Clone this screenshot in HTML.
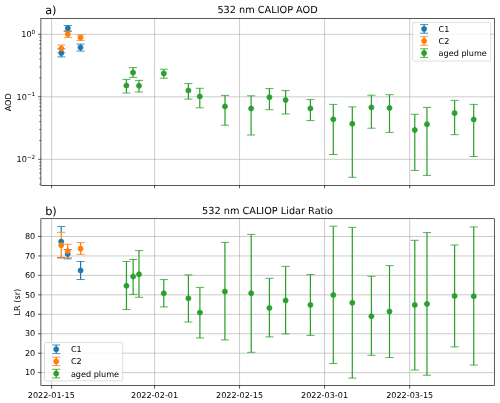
<!DOCTYPE html>
<html><head><meta charset="utf-8"><title>CALIOP AOD and Lidar Ratio</title>
<style>html,body{margin:0;padding:0;background:#fff}svg{display:block}</style></head>
<body>
<svg width="500" height="403" viewBox="0 0 500 403" font-family="DejaVu Sans, Liberation Sans, sans-serif" text-rendering="geometricPrecision">
<rect width="500" height="403" fill="#fff"/>
<defs><clipPath id="c1"><rect x="40.9" y="18.5" width="453.40000000000003" height="167.0"/></clipPath><clipPath id="c2"><rect x="40.9" y="218.7" width="453.40000000000003" height="166.90000000000003"/></clipPath></defs>
<path d="M51.60 18.5V185.5" stroke="#b0b0b0" stroke-width="0.65"/>
<path d="M154.60 18.5V185.5" stroke="#b0b0b0" stroke-width="0.65"/>
<path d="M239.55 18.5V185.5" stroke="#b0b0b0" stroke-width="0.65"/>
<path d="M324.55 18.5V185.5" stroke="#b0b0b0" stroke-width="0.65"/>
<path d="M409.70 18.5V185.5" stroke="#b0b0b0" stroke-width="0.65"/>
<path d="M40.9 34.30H494.3" stroke="#b0b0b0" stroke-width="0.65"/>
<path d="M40.9 96.80H494.3" stroke="#b0b0b0" stroke-width="0.65"/>
<path d="M40.9 159.30H494.3" stroke="#b0b0b0" stroke-width="0.65"/>
<path d="M51.60 185.5v2.83" stroke="#000" stroke-width="0.65"/>
<path d="M154.60 185.5v2.83" stroke="#000" stroke-width="0.65"/>
<path d="M239.55 185.5v2.83" stroke="#000" stroke-width="0.65"/>
<path d="M324.55 185.5v2.83" stroke="#000" stroke-width="0.65"/>
<path d="M409.70 185.5v2.83" stroke="#000" stroke-width="0.65"/>
<path d="M40.9 34.30h-2.83" stroke="#000" stroke-width="0.65"/>
<text x="35.23" y="37.20" font-size="8.1" text-anchor="end" fill="#000">10<tspan font-size="5.67" dy="-3.40">0</tspan></text>
<path d="M40.9 96.80h-2.83" stroke="#000" stroke-width="0.65"/>
<text x="35.23" y="99.70" font-size="8.1" text-anchor="end" fill="#000">10<tspan font-size="5.67" dy="-3.40">−1</tspan></text>
<path d="M40.9 159.30h-2.83" stroke="#000" stroke-width="0.65"/>
<text x="35.23" y="162.20" font-size="8.1" text-anchor="end" fill="#000">10<tspan font-size="5.67" dy="-3.40">−2</tspan></text>
<path d="M40.9 77.99h-1.62" stroke="#000" stroke-width="0.58"/>
<path d="M40.9 66.98h-1.62" stroke="#000" stroke-width="0.58"/>
<path d="M40.9 59.17h-1.62" stroke="#000" stroke-width="0.58"/>
<path d="M40.9 53.11h-1.62" stroke="#000" stroke-width="0.58"/>
<path d="M40.9 48.17h-1.62" stroke="#000" stroke-width="0.58"/>
<path d="M40.9 43.98h-1.62" stroke="#000" stroke-width="0.58"/>
<path d="M40.9 40.36h-1.62" stroke="#000" stroke-width="0.58"/>
<path d="M40.9 37.16h-1.62" stroke="#000" stroke-width="0.58"/>
<path d="M40.9 140.49h-1.62" stroke="#000" stroke-width="0.58"/>
<path d="M40.9 129.48h-1.62" stroke="#000" stroke-width="0.58"/>
<path d="M40.9 121.67h-1.62" stroke="#000" stroke-width="0.58"/>
<path d="M40.9 115.61h-1.62" stroke="#000" stroke-width="0.58"/>
<path d="M40.9 110.67h-1.62" stroke="#000" stroke-width="0.58"/>
<path d="M40.9 106.48h-1.62" stroke="#000" stroke-width="0.58"/>
<path d="M40.9 102.86h-1.62" stroke="#000" stroke-width="0.58"/>
<path d="M40.9 99.66h-1.62" stroke="#000" stroke-width="0.58"/>
<path d="M40.9 184.17h-1.62" stroke="#000" stroke-width="0.58"/>
<path d="M40.9 178.11h-1.62" stroke="#000" stroke-width="0.58"/>
<path d="M40.9 173.17h-1.62" stroke="#000" stroke-width="0.58"/>
<path d="M40.9 168.98h-1.62" stroke="#000" stroke-width="0.58"/>
<path d="M40.9 165.36h-1.62" stroke="#000" stroke-width="0.58"/>
<path d="M40.9 162.16h-1.62" stroke="#000" stroke-width="0.58"/>
<g clip-path="url(#c1)">
<path d="M61.30 48.90V56.90" stroke="#1f77b4" stroke-width="1.22" fill="none"/>
<path d="M57.25 48.90H65.35M57.25 56.90H65.35" stroke="#1f77b4" stroke-width="0.81" fill="none"/>
<path d="M67.80 25.50V31.40" stroke="#1f77b4" stroke-width="1.22" fill="none"/>
<path d="M63.75 25.50H71.85M63.75 31.40H71.85" stroke="#1f77b4" stroke-width="0.81" fill="none"/>
<path d="M80.50 44.10V51.10" stroke="#1f77b4" stroke-width="1.22" fill="none"/>
<path d="M76.45 44.10H84.55M76.45 51.10H84.55" stroke="#1f77b4" stroke-width="0.81" fill="none"/>
<path d="M61.30 45.00V52.60" stroke="#ff7f0e" stroke-width="1.22" fill="none"/>
<path d="M57.25 45.00H65.35M57.25 52.60H65.35" stroke="#ff7f0e" stroke-width="0.81" fill="none"/>
<path d="M67.80 30.70V37.40" stroke="#ff7f0e" stroke-width="1.22" fill="none"/>
<path d="M63.75 30.70H71.85M63.75 37.40H71.85" stroke="#ff7f0e" stroke-width="0.81" fill="none"/>
<path d="M80.50 34.90V40.40" stroke="#ff7f0e" stroke-width="1.22" fill="none"/>
<path d="M76.45 34.90H84.55M76.45 40.40H84.55" stroke="#ff7f0e" stroke-width="0.81" fill="none"/>
<path d="M126.40 79.40V93.00" stroke="#2ca02c" stroke-width="1.22" fill="none"/>
<path d="M122.35 79.40H130.45M122.35 93.00H130.45" stroke="#2ca02c" stroke-width="0.81" fill="none"/>
<path d="M133.00 67.60V77.40" stroke="#2ca02c" stroke-width="1.22" fill="none"/>
<path d="M128.95 67.60H137.05M128.95 77.40H137.05" stroke="#2ca02c" stroke-width="0.81" fill="none"/>
<path d="M139.00 80.40V92.00" stroke="#2ca02c" stroke-width="1.22" fill="none"/>
<path d="M134.95 80.40H143.05M134.95 92.00H143.05" stroke="#2ca02c" stroke-width="0.81" fill="none"/>
<path d="M163.80 69.20V78.20" stroke="#2ca02c" stroke-width="1.22" fill="none"/>
<path d="M159.75 69.20H167.85M159.75 78.20H167.85" stroke="#2ca02c" stroke-width="0.81" fill="none"/>
<path d="M188.40 83.60V99.10" stroke="#2ca02c" stroke-width="1.22" fill="none"/>
<path d="M184.35 83.60H192.45M184.35 99.10H192.45" stroke="#2ca02c" stroke-width="0.81" fill="none"/>
<path d="M199.80 88.30V107.80" stroke="#2ca02c" stroke-width="1.22" fill="none"/>
<path d="M195.75 88.30H203.85M195.75 107.80H203.85" stroke="#2ca02c" stroke-width="0.81" fill="none"/>
<path d="M225.00 95.40V125.20" stroke="#2ca02c" stroke-width="1.22" fill="none"/>
<path d="M220.95 95.40H229.05M220.95 125.20H229.05" stroke="#2ca02c" stroke-width="0.81" fill="none"/>
<path d="M251.10 95.80V135.00" stroke="#2ca02c" stroke-width="1.22" fill="none"/>
<path d="M247.05 95.80H255.15M247.05 135.00H255.15" stroke="#2ca02c" stroke-width="0.81" fill="none"/>
<path d="M269.40 88.60V109.70" stroke="#2ca02c" stroke-width="1.22" fill="none"/>
<path d="M265.35 88.60H273.45M265.35 109.70H273.45" stroke="#2ca02c" stroke-width="0.81" fill="none"/>
<path d="M285.60 90.60V114.00" stroke="#2ca02c" stroke-width="1.22" fill="none"/>
<path d="M281.55 90.60H289.65M281.55 114.00H289.65" stroke="#2ca02c" stroke-width="0.81" fill="none"/>
<path d="M310.40 99.60V120.60" stroke="#2ca02c" stroke-width="1.22" fill="none"/>
<path d="M306.35 99.60H314.45M306.35 120.60H314.45" stroke="#2ca02c" stroke-width="0.81" fill="none"/>
<path d="M333.30 104.40V154.50" stroke="#2ca02c" stroke-width="1.22" fill="none"/>
<path d="M329.25 104.40H337.35M329.25 154.50H337.35" stroke="#2ca02c" stroke-width="0.81" fill="none"/>
<path d="M352.30 106.90V177.30" stroke="#2ca02c" stroke-width="1.22" fill="none"/>
<path d="M348.25 106.90H356.35M348.25 177.30H356.35" stroke="#2ca02c" stroke-width="0.81" fill="none"/>
<path d="M371.40 95.20V128.20" stroke="#2ca02c" stroke-width="1.22" fill="none"/>
<path d="M367.35 95.20H375.45M367.35 128.20H375.45" stroke="#2ca02c" stroke-width="0.81" fill="none"/>
<path d="M389.50 94.70V132.40" stroke="#2ca02c" stroke-width="1.22" fill="none"/>
<path d="M385.45 94.70H393.55M385.45 132.40H393.55" stroke="#2ca02c" stroke-width="0.81" fill="none"/>
<path d="M414.80 114.30V170.40" stroke="#2ca02c" stroke-width="1.22" fill="none"/>
<path d="M410.75 114.30H418.85M410.75 170.40H418.85" stroke="#2ca02c" stroke-width="0.81" fill="none"/>
<path d="M427.00 107.40V175.40" stroke="#2ca02c" stroke-width="1.22" fill="none"/>
<path d="M422.95 107.40H431.05M422.95 175.40H431.05" stroke="#2ca02c" stroke-width="0.81" fill="none"/>
<path d="M454.60 100.40V134.70" stroke="#2ca02c" stroke-width="1.22" fill="none"/>
<path d="M450.55 100.40H458.65M450.55 134.70H458.65" stroke="#2ca02c" stroke-width="0.81" fill="none"/>
<path d="M473.70 104.40V156.50" stroke="#2ca02c" stroke-width="1.22" fill="none"/>
<path d="M469.65 104.40H477.75M469.65 156.50H477.75" stroke="#2ca02c" stroke-width="0.81" fill="none"/>
<circle cx="61.30" cy="53.10" r="2.51" fill="#1f77b4" stroke="#1f77b4" stroke-width="0.81"/>
<circle cx="67.80" cy="28.20" r="2.51" fill="#1f77b4" stroke="#1f77b4" stroke-width="0.81"/>
<circle cx="80.50" cy="47.40" r="2.51" fill="#1f77b4" stroke="#1f77b4" stroke-width="0.81"/>
<circle cx="61.30" cy="48.40" r="2.51" fill="#ff7f0e" stroke="#ff7f0e" stroke-width="0.81"/>
<circle cx="67.80" cy="34.10" r="2.51" fill="#ff7f0e" stroke="#ff7f0e" stroke-width="0.81"/>
<circle cx="80.50" cy="37.60" r="2.51" fill="#ff7f0e" stroke="#ff7f0e" stroke-width="0.81"/>
<circle cx="126.40" cy="85.60" r="2.51" fill="#2ca02c" stroke="#2ca02c" stroke-width="0.81"/>
<circle cx="133.00" cy="72.60" r="2.51" fill="#2ca02c" stroke="#2ca02c" stroke-width="0.81"/>
<circle cx="139.00" cy="85.80" r="2.51" fill="#2ca02c" stroke="#2ca02c" stroke-width="0.81"/>
<circle cx="163.80" cy="73.40" r="2.51" fill="#2ca02c" stroke="#2ca02c" stroke-width="0.81"/>
<circle cx="188.40" cy="90.50" r="2.51" fill="#2ca02c" stroke="#2ca02c" stroke-width="0.81"/>
<circle cx="199.80" cy="96.40" r="2.51" fill="#2ca02c" stroke="#2ca02c" stroke-width="0.81"/>
<circle cx="225.00" cy="106.40" r="2.51" fill="#2ca02c" stroke="#2ca02c" stroke-width="0.81"/>
<circle cx="251.10" cy="108.60" r="2.51" fill="#2ca02c" stroke="#2ca02c" stroke-width="0.81"/>
<circle cx="269.40" cy="97.20" r="2.51" fill="#2ca02c" stroke="#2ca02c" stroke-width="0.81"/>
<circle cx="285.60" cy="100.00" r="2.51" fill="#2ca02c" stroke="#2ca02c" stroke-width="0.81"/>
<circle cx="310.40" cy="108.40" r="2.51" fill="#2ca02c" stroke="#2ca02c" stroke-width="0.81"/>
<circle cx="333.30" cy="119.30" r="2.51" fill="#2ca02c" stroke="#2ca02c" stroke-width="0.81"/>
<circle cx="352.30" cy="123.80" r="2.51" fill="#2ca02c" stroke="#2ca02c" stroke-width="0.81"/>
<circle cx="371.40" cy="107.40" r="2.51" fill="#2ca02c" stroke="#2ca02c" stroke-width="0.81"/>
<circle cx="389.50" cy="107.90" r="2.51" fill="#2ca02c" stroke="#2ca02c" stroke-width="0.81"/>
<circle cx="414.80" cy="130.00" r="2.51" fill="#2ca02c" stroke="#2ca02c" stroke-width="0.81"/>
<circle cx="427.00" cy="124.20" r="2.51" fill="#2ca02c" stroke="#2ca02c" stroke-width="0.81"/>
<circle cx="454.60" cy="113.10" r="2.51" fill="#2ca02c" stroke="#2ca02c" stroke-width="0.81"/>
<circle cx="473.70" cy="119.50" r="2.51" fill="#2ca02c" stroke="#2ca02c" stroke-width="0.81"/>
</g>
<rect x="40.9" y="18.5" width="453.40000000000003" height="167.0" fill="none" stroke="#000" stroke-width="0.65"/>
<text x="267.60" y="13.4" font-size="9.72" text-anchor="middle" fill="#000">532 nm CALIOP AOD</text>
<text x="45.2" y="14.2" font-size="11.3" fill="#000">a)</text>
<text transform="translate(11.2 102.30) rotate(-90)" font-size="8.1" text-anchor="middle" fill="#000">AOD</text>
<rect x="412.6" y="22.4" width="78.1" height="38.6" rx="1.6" fill="#fff" fill-opacity="0.8" stroke="#ccc" stroke-opacity="0.8" stroke-width="0.81"/>
<path d="M424.1 24.599999999999998V33.199999999999996" stroke="#1f77b4" stroke-width="1.22" fill="none"/>
<path d="M420.05 24.599999999999998H428.15M420.05 33.199999999999996H428.15" stroke="#1f77b4" stroke-width="0.81" fill="none"/>
<circle cx="424.1" cy="28.9" r="2.51" fill="#1f77b4" stroke="#1f77b4" stroke-width="0.81"/>
<text x="438.6" y="31.7" font-size="8.1" fill="#000">C1</text>
<path d="M424.1 36.6V45.199999999999996" stroke="#ff7f0e" stroke-width="1.22" fill="none"/>
<path d="M420.05 36.6H428.15M420.05 45.199999999999996H428.15" stroke="#ff7f0e" stroke-width="0.81" fill="none"/>
<circle cx="424.1" cy="40.9" r="2.51" fill="#ff7f0e" stroke="#ff7f0e" stroke-width="0.81"/>
<text x="438.6" y="43.8" font-size="8.1" fill="#000">C2</text>
<path d="M424.1 48.800000000000004V57.4" stroke="#2ca02c" stroke-width="1.22" fill="none"/>
<path d="M420.05 48.800000000000004H428.15M420.05 57.4H428.15" stroke="#2ca02c" stroke-width="0.81" fill="none"/>
<circle cx="424.1" cy="53.1" r="2.51" fill="#2ca02c" stroke="#2ca02c" stroke-width="0.81"/>
<text x="438.6" y="56.4" font-size="8.1" fill="#000">aged plume</text>
<path d="M51.60 218.7V385.6" stroke="#b0b0b0" stroke-width="0.65"/>
<path d="M154.60 218.7V385.6" stroke="#b0b0b0" stroke-width="0.65"/>
<path d="M239.55 218.7V385.6" stroke="#b0b0b0" stroke-width="0.65"/>
<path d="M324.55 218.7V385.6" stroke="#b0b0b0" stroke-width="0.65"/>
<path d="M409.70 218.7V385.6" stroke="#b0b0b0" stroke-width="0.65"/>
<path d="M40.9 236.50H494.3" stroke="#b0b0b0" stroke-width="0.65"/>
<path d="M40.9 255.95H494.3" stroke="#b0b0b0" stroke-width="0.65"/>
<path d="M40.9 275.40H494.3" stroke="#b0b0b0" stroke-width="0.65"/>
<path d="M40.9 294.85H494.3" stroke="#b0b0b0" stroke-width="0.65"/>
<path d="M40.9 314.30H494.3" stroke="#b0b0b0" stroke-width="0.65"/>
<path d="M40.9 333.75H494.3" stroke="#b0b0b0" stroke-width="0.65"/>
<path d="M40.9 353.20H494.3" stroke="#b0b0b0" stroke-width="0.65"/>
<path d="M40.9 372.65H494.3" stroke="#b0b0b0" stroke-width="0.65"/>
<path d="M51.60 385.6v3.10" stroke="#000" stroke-width="0.65"/>
<text x="51.30" y="397.5" font-size="8.1" text-anchor="middle" fill="#000">2022-01-15</text>
<path d="M154.60 385.6v3.10" stroke="#000" stroke-width="0.65"/>
<text x="154.60" y="397.5" font-size="8.1" text-anchor="middle" fill="#000">2022-02-01</text>
<path d="M239.55 385.6v3.10" stroke="#000" stroke-width="0.65"/>
<text x="239.55" y="397.5" font-size="8.1" text-anchor="middle" fill="#000">2022-02-15</text>
<path d="M324.55 385.6v3.10" stroke="#000" stroke-width="0.65"/>
<text x="324.55" y="397.5" font-size="8.1" text-anchor="middle" fill="#000">2022-03-01</text>
<path d="M409.70 385.6v3.10" stroke="#000" stroke-width="0.65"/>
<text x="409.70" y="397.5" font-size="8.1" text-anchor="middle" fill="#000">2022-03-15</text>
<path d="M40.9 236.50h-2.83" stroke="#000" stroke-width="0.65"/>
<text x="35.23" y="239.20" font-size="8.1" text-anchor="end" fill="#000">80</text>
<path d="M40.9 255.95h-2.83" stroke="#000" stroke-width="0.65"/>
<text x="35.23" y="258.65" font-size="8.1" text-anchor="end" fill="#000">70</text>
<path d="M40.9 275.40h-2.83" stroke="#000" stroke-width="0.65"/>
<text x="35.23" y="278.10" font-size="8.1" text-anchor="end" fill="#000">60</text>
<path d="M40.9 294.85h-2.83" stroke="#000" stroke-width="0.65"/>
<text x="35.23" y="297.55" font-size="8.1" text-anchor="end" fill="#000">50</text>
<path d="M40.9 314.30h-2.83" stroke="#000" stroke-width="0.65"/>
<text x="35.23" y="317.00" font-size="8.1" text-anchor="end" fill="#000">40</text>
<path d="M40.9 333.75h-2.83" stroke="#000" stroke-width="0.65"/>
<text x="35.23" y="336.45" font-size="8.1" text-anchor="end" fill="#000">30</text>
<path d="M40.9 353.20h-2.83" stroke="#000" stroke-width="0.65"/>
<text x="35.23" y="355.90" font-size="8.1" text-anchor="end" fill="#000">20</text>
<path d="M40.9 372.65h-2.83" stroke="#000" stroke-width="0.65"/>
<text x="35.23" y="375.35" font-size="8.1" text-anchor="end" fill="#000">10</text>
<g clip-path="url(#c2)">
<path d="M61.20 226.50V232.30" stroke="#1f77b4" stroke-width="1.22" fill="none"/>
<path d="M57.15 226.50H65.25M57.15 257.40H65.25" stroke="#1f77b4" stroke-width="0.81" fill="none"/>
<path d="M67.70 257.50V258.90" stroke="#1f77b4" stroke-width="1.22" fill="none"/>
<path d="M63.65 249.50H71.75M63.65 258.90H71.75" stroke="#1f77b4" stroke-width="0.81" fill="none"/>
<path d="M80.60 261.50V279.50" stroke="#1f77b4" stroke-width="1.22" fill="none"/>
<path d="M76.55 261.50H84.65M76.55 279.50H84.65" stroke="#1f77b4" stroke-width="0.81" fill="none"/>
<path d="M61.20 232.30V258.20" stroke="#ff7f0e" stroke-width="1.22" fill="none"/>
<path d="M57.15 232.30H65.25M57.15 258.20H65.25" stroke="#ff7f0e" stroke-width="0.81" fill="none"/>
<path d="M67.70 244.30V257.70" stroke="#ff7f0e" stroke-width="1.22" fill="none"/>
<path d="M63.65 244.30H71.75M63.65 257.70H71.75" stroke="#ff7f0e" stroke-width="0.81" fill="none"/>
<path d="M80.60 242.60V254.40" stroke="#ff7f0e" stroke-width="1.22" fill="none"/>
<path d="M76.55 242.60H84.65M76.55 254.40H84.65" stroke="#ff7f0e" stroke-width="0.81" fill="none"/>
<path d="M126.45 261.50V309.50" stroke="#2ca02c" stroke-width="1.22" fill="none"/>
<path d="M122.40 261.50H130.50M122.40 309.50H130.50" stroke="#2ca02c" stroke-width="0.81" fill="none"/>
<path d="M133.15 259.50V294.40" stroke="#2ca02c" stroke-width="1.22" fill="none"/>
<path d="M129.10 259.50H137.20M129.10 294.40H137.20" stroke="#2ca02c" stroke-width="0.81" fill="none"/>
<path d="M139.00 250.60V297.30" stroke="#2ca02c" stroke-width="1.22" fill="none"/>
<path d="M134.95 250.60H143.05M134.95 297.30H143.05" stroke="#2ca02c" stroke-width="0.81" fill="none"/>
<path d="M163.80 279.60V306.90" stroke="#2ca02c" stroke-width="1.22" fill="none"/>
<path d="M159.75 279.60H167.85M159.75 306.90H167.85" stroke="#2ca02c" stroke-width="0.81" fill="none"/>
<path d="M188.40 274.90V322.00" stroke="#2ca02c" stroke-width="1.22" fill="none"/>
<path d="M184.35 274.90H192.45M184.35 322.00H192.45" stroke="#2ca02c" stroke-width="0.81" fill="none"/>
<path d="M199.90 287.40V337.90" stroke="#2ca02c" stroke-width="1.22" fill="none"/>
<path d="M195.85 287.40H203.95M195.85 337.90H203.95" stroke="#2ca02c" stroke-width="0.81" fill="none"/>
<path d="M224.90 242.40V339.90" stroke="#2ca02c" stroke-width="1.22" fill="none"/>
<path d="M220.85 242.40H228.95M220.85 339.90H228.95" stroke="#2ca02c" stroke-width="0.81" fill="none"/>
<path d="M251.20 234.40V352.30" stroke="#2ca02c" stroke-width="1.22" fill="none"/>
<path d="M247.15 234.40H255.25M247.15 352.30H255.25" stroke="#2ca02c" stroke-width="0.81" fill="none"/>
<path d="M269.40 278.30V336.90" stroke="#2ca02c" stroke-width="1.22" fill="none"/>
<path d="M265.35 278.30H273.45M265.35 336.90H273.45" stroke="#2ca02c" stroke-width="0.81" fill="none"/>
<path d="M285.60 266.40V333.90" stroke="#2ca02c" stroke-width="1.22" fill="none"/>
<path d="M281.55 266.40H289.65M281.55 333.90H289.65" stroke="#2ca02c" stroke-width="0.81" fill="none"/>
<path d="M310.40 274.60V335.40" stroke="#2ca02c" stroke-width="1.22" fill="none"/>
<path d="M306.35 274.60H314.45M306.35 335.40H314.45" stroke="#2ca02c" stroke-width="0.81" fill="none"/>
<path d="M333.30 226.20V363.50" stroke="#2ca02c" stroke-width="1.22" fill="none"/>
<path d="M329.25 226.20H337.35M329.25 363.50H337.35" stroke="#2ca02c" stroke-width="0.81" fill="none"/>
<path d="M352.30 227.40V378.10" stroke="#2ca02c" stroke-width="1.22" fill="none"/>
<path d="M348.25 227.40H356.35M348.25 378.10H356.35" stroke="#2ca02c" stroke-width="0.81" fill="none"/>
<path d="M371.40 276.30V355.30" stroke="#2ca02c" stroke-width="1.22" fill="none"/>
<path d="M367.35 276.30H375.45M367.35 355.30H375.45" stroke="#2ca02c" stroke-width="0.81" fill="none"/>
<path d="M389.50 265.60V357.50" stroke="#2ca02c" stroke-width="1.22" fill="none"/>
<path d="M385.45 265.60H393.55M385.45 357.50H393.55" stroke="#2ca02c" stroke-width="0.81" fill="none"/>
<path d="M414.80 240.30V370.00" stroke="#2ca02c" stroke-width="1.22" fill="none"/>
<path d="M410.75 240.30H418.85M410.75 370.00H418.85" stroke="#2ca02c" stroke-width="0.81" fill="none"/>
<path d="M427.00 232.60V375.20" stroke="#2ca02c" stroke-width="1.22" fill="none"/>
<path d="M422.95 232.60H431.05M422.95 375.20H431.05" stroke="#2ca02c" stroke-width="0.81" fill="none"/>
<path d="M454.60 245.00V346.90" stroke="#2ca02c" stroke-width="1.22" fill="none"/>
<path d="M450.55 245.00H458.65M450.55 346.90H458.65" stroke="#2ca02c" stroke-width="0.81" fill="none"/>
<path d="M473.75 226.90V365.10" stroke="#2ca02c" stroke-width="1.22" fill="none"/>
<path d="M469.70 226.90H477.80M469.70 365.10H477.80" stroke="#2ca02c" stroke-width="0.81" fill="none"/>
<circle cx="61.20" cy="241.60" r="2.51" fill="#1f77b4" stroke="#1f77b4" stroke-width="0.81"/>
<circle cx="67.70" cy="254.00" r="2.51" fill="#1f77b4" stroke="#1f77b4" stroke-width="0.81"/>
<circle cx="80.60" cy="270.50" r="2.51" fill="#1f77b4" stroke="#1f77b4" stroke-width="0.81"/>
<circle cx="61.20" cy="245.20" r="2.51" fill="#ff7f0e" stroke="#ff7f0e" stroke-width="0.81"/>
<circle cx="67.70" cy="251.10" r="2.51" fill="#ff7f0e" stroke="#ff7f0e" stroke-width="0.81"/>
<circle cx="80.60" cy="248.70" r="2.51" fill="#ff7f0e" stroke="#ff7f0e" stroke-width="0.81"/>
<circle cx="126.45" cy="285.80" r="2.51" fill="#2ca02c" stroke="#2ca02c" stroke-width="0.81"/>
<circle cx="133.15" cy="276.60" r="2.51" fill="#2ca02c" stroke="#2ca02c" stroke-width="0.81"/>
<circle cx="139.00" cy="274.30" r="2.51" fill="#2ca02c" stroke="#2ca02c" stroke-width="0.81"/>
<circle cx="163.80" cy="293.30" r="2.51" fill="#2ca02c" stroke="#2ca02c" stroke-width="0.81"/>
<circle cx="188.40" cy="298.30" r="2.51" fill="#2ca02c" stroke="#2ca02c" stroke-width="0.81"/>
<circle cx="199.90" cy="312.60" r="2.51" fill="#2ca02c" stroke="#2ca02c" stroke-width="0.81"/>
<circle cx="224.90" cy="291.50" r="2.51" fill="#2ca02c" stroke="#2ca02c" stroke-width="0.81"/>
<circle cx="251.20" cy="293.20" r="2.51" fill="#2ca02c" stroke="#2ca02c" stroke-width="0.81"/>
<circle cx="269.40" cy="308.00" r="2.51" fill="#2ca02c" stroke="#2ca02c" stroke-width="0.81"/>
<circle cx="285.60" cy="300.40" r="2.51" fill="#2ca02c" stroke="#2ca02c" stroke-width="0.81"/>
<circle cx="310.40" cy="304.90" r="2.51" fill="#2ca02c" stroke="#2ca02c" stroke-width="0.81"/>
<circle cx="333.30" cy="295.00" r="2.51" fill="#2ca02c" stroke="#2ca02c" stroke-width="0.81"/>
<circle cx="352.30" cy="302.80" r="2.51" fill="#2ca02c" stroke="#2ca02c" stroke-width="0.81"/>
<circle cx="371.40" cy="316.20" r="2.51" fill="#2ca02c" stroke="#2ca02c" stroke-width="0.81"/>
<circle cx="389.50" cy="311.50" r="2.51" fill="#2ca02c" stroke="#2ca02c" stroke-width="0.81"/>
<circle cx="414.80" cy="304.90" r="2.51" fill="#2ca02c" stroke="#2ca02c" stroke-width="0.81"/>
<circle cx="427.00" cy="303.90" r="2.51" fill="#2ca02c" stroke="#2ca02c" stroke-width="0.81"/>
<circle cx="454.60" cy="296.00" r="2.51" fill="#2ca02c" stroke="#2ca02c" stroke-width="0.81"/>
<circle cx="473.75" cy="296.20" r="2.51" fill="#2ca02c" stroke="#2ca02c" stroke-width="0.81"/>
</g>
<rect x="40.9" y="218.7" width="453.40000000000003" height="166.90000000000003" fill="none" stroke="#000" stroke-width="0.65"/>
<text x="267.60" y="213.80" font-size="9.72" text-anchor="middle" fill="#000">532 nm CALIOP Lidar Ratio</text>
<text x="45.2" y="214.9" font-size="11.3" fill="#000">b)</text>
<text transform="translate(19.5 302.15) rotate(-90)" font-size="8.1" text-anchor="middle" fill="#000">LR (sr)</text>
<rect x="44.5" y="342.5" width="78.2" height="38.3" rx="1.6" fill="#fff" fill-opacity="0.8" stroke="#ccc" stroke-opacity="0.8" stroke-width="0.81"/>
<path d="M56.2 345.0V353.6" stroke="#1f77b4" stroke-width="1.22" fill="none"/>
<path d="M52.15 345.0H60.25M52.15 353.6H60.25" stroke="#1f77b4" stroke-width="0.81" fill="none"/>
<circle cx="56.2" cy="349.3" r="2.51" fill="#1f77b4" stroke="#1f77b4" stroke-width="0.81"/>
<text x="70.9" y="352.1" font-size="8.1" fill="#000">C1</text>
<path d="M56.2 357.09999999999997V365.7" stroke="#ff7f0e" stroke-width="1.22" fill="none"/>
<path d="M52.15 357.09999999999997H60.25M52.15 365.7H60.25" stroke="#ff7f0e" stroke-width="0.81" fill="none"/>
<circle cx="56.2" cy="361.4" r="2.51" fill="#ff7f0e" stroke="#ff7f0e" stroke-width="0.81"/>
<text x="70.9" y="364.2" font-size="8.1" fill="#000">C2</text>
<path d="M56.2 369.3V377.90000000000003" stroke="#2ca02c" stroke-width="1.22" fill="none"/>
<path d="M52.15 369.3H60.25M52.15 377.90000000000003H60.25" stroke="#2ca02c" stroke-width="0.81" fill="none"/>
<circle cx="56.2" cy="373.6" r="2.51" fill="#2ca02c" stroke="#2ca02c" stroke-width="0.81"/>
<text x="70.9" y="377.1" font-size="8.1" fill="#000">aged plume</text>
</svg>
</body></html>
